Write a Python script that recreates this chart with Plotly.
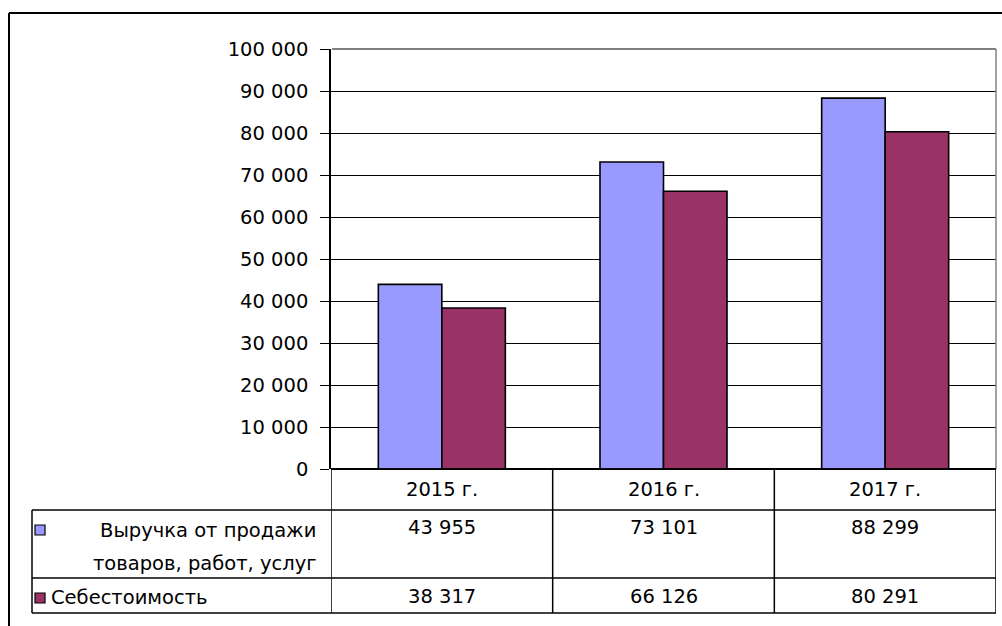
import plotly.graph_objects as go

categories = ["2015 г.", "2016 г.", "2017 г."]
series_line1 = ["Выручка от продажи", "Себестоимость"]
series_line2 = ["товаров, работ, услуг", ""]
revenue = [43955, 73101, 88299]
cost = [38317, 66126, 80291]
tick_vals = list(range(0, 100001, 10000))

W, H = 1002, 626
FONT = "DejaVu Sans"
FS = 19.5
BLUE = "#9999FF"
PURPLE = "#993366"

def px(p):
    return p / W

def py(p):
    return 1 - p / H

def fmt(v):
    return f"{v:,}".replace(",", " ")

fig = go.Figure()
fig.add_trace(go.Bar(x=categories, y=revenue, name="Выручка", marker=dict(color=BLUE, line=dict(color="black", width=1.6))))
fig.add_trace(go.Bar(x=categories, y=cost, name="Себестоимость", marker=dict(color=PURPLE, line=dict(color="black", width=1.6))))

x0, x1 = 331, 996
ytop, ybot = 49, 469
fig.update_layout(
    width=W, height=H,
    margin=dict(l=0, r=0, t=0, b=0, autoexpand=False),
    paper_bgcolor="white", plot_bgcolor="white",
    showlegend=False,
    barmode="group", bargap=0.427, bargroupgap=0,
    separators=", ",
    font=dict(family=FONT, size=FS, color="black"),
    xaxis=dict(domain=[px(x0), px(x1)], range=[-0.5, 2.5], showticklabels=False,
               showgrid=False, zeroline=False, showline=False, ticks="", automargin=False),
    yaxis=dict(domain=[py(ybot), py(ytop)], range=[0, 100000], tickvals=tick_vals,
               ticktext=[fmt(v) for v in tick_vals], automargin=False,
               ticks="outside", ticklen=9, tickcolor="black", tickwidth=1.2,
               ticklabelstandoff=8,
               showline=True, linecolor="black", linewidth=1.5,
               showgrid=True, gridcolor="black", gridwidth=1.2,
               zeroline=True, zerolinecolor="black", zerolinewidth=1.5,
               tickfont=dict(family=FONT, size=FS)),
)

shapes = []
def line(xa, ya, xb, yb, color="black", width=1.5, xref="paper"):
    shapes.append(dict(type="line", xref=xref, yref="paper", x0=xa, y0=ya, x1=xb, y1=yb,
                       line=dict(color=color, width=width), layer="above"))

# outer chart frame (continues past the canvas on the right and bottom)
line(px(9), py(13), px(1002), py(13), width=2)
line(px(9), py(13), px(9), py(626), width=2)

# plot area border (top and right) in gray
line(px(x0 + 1), py(ytop), px(x1), py(ytop), color="#808080", width=2)
line(px(x1), py(ytop), px(x1), py(ybot), color="#808080", width=1.5)

# data table
r0, r1, r2, r3 = 469, 510, 578, 613
line(px(x0), py(r0), px(x1), py(r0))
for r in (r1, r2, r3):
    line(px(32), py(r), px(x1), py(r))
line(px(32), py(r1), px(32), py(r3))
for b in (-0.5, 0.5, 1.5, 2.5):
    line(b, py(r0), b, py(r3), xref="x")

# legend keys
for (ky, col) in ((530, BLUE), (598, PURPLE)):
    shapes.append(dict(type="rect", xref="paper", yref="paper", x0=px(35), x1=px(45),
                       y0=py(ky + 5), y1=py(ky - 5), fillcolor=col,
                       line=dict(color="black", width=1.2), layer="above"))
fig.update_layout(shapes=shapes)

ann = []
for i, c in enumerate(categories):
    ann.append(dict(x=i, xref="x", y=py(490), yref="paper", text=c, showarrow=False,
                    xanchor="center", yanchor="middle"))
    ann.append(dict(x=i, xref="x", y=py(527), yref="paper", text=fmt(revenue[i]), showarrow=False,
                    xanchor="center", yanchor="middle"))
    ann.append(dict(x=i, xref="x", y=py(596), yref="paper", text=fmt(cost[i]), showarrow=False,
                    xanchor="center", yanchor="middle"))
ann.append(dict(x=px(318), y=py(530), xref="paper", yref="paper", text=series_line1[0],
                showarrow=False, xanchor="right", yanchor="middle"))
ann.append(dict(x=px(318), y=py(563), xref="paper", yref="paper", text=series_line2[0],
                showarrow=False, xanchor="right", yanchor="middle"))
ann.append(dict(x=px(49), y=py(597), xref="paper", yref="paper", text=series_line1[1],
                showarrow=False, xanchor="left", yanchor="middle"))
fig.update_layout(annotations=ann)

fig.write_html("out.html", config={"displayModeBar": False},
               post_script="document.body.style.margin='0';")
